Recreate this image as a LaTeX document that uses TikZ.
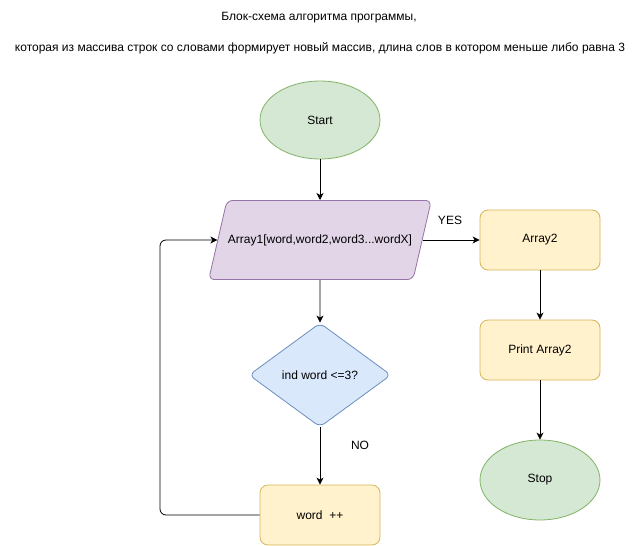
\documentclass[tikz,border=0pt]{standalone}
\usepackage{fontspec}
\setmainfont{Liberation Sans}
\usetikzlibrary{shapes.geometric,arrows.meta}

\definecolor{termfill}{HTML}{D5E8D4}
\definecolor{termdraw}{HTML}{82B366}
\definecolor{iofill}{HTML}{E1D5E7}
\definecolor{iodraw}{HTML}{9673A6}
\definecolor{askfill}{HTML}{DAE8FC}
\definecolor{askdraw}{HTML}{6C8EBF}
\definecolor{actfill}{HTML}{FFF2CC}
\definecolor{actdraw}{HTML}{D6B656}

\begin{document}
\begin{tikzpicture}[x=1pt,y=-1pt,auto,font=\fontsize{12}{14}\selectfont,
    term/.style={ellipse,draw=termdraw,fill=termfill,minimum width=120pt,minimum height=78pt},
    io/.style={trapezium,trapezium left angle=77,trapezium right angle=103,
        draw=iodraw,fill=iofill,rounded corners=6pt,inner xsep=1pt,inner ysep=34pt},
    ask/.style={diamond,draw=askdraw,fill=askfill,rounded corners=6pt,minimum width=142pt,minimum height=104pt,inner sep=0pt},
    act/.style={rectangle,draw=actdraw,fill=actfill,rounded corners=8pt,minimum width=120pt,minimum height=60pt},
    link/.style={draw=black,line width=0.8pt,-{Stealth[length=7pt,width=7pt,inset=2pt]}}]
    \useasboundingbox (0,0) rectangle (641,546);
    \node (title1) at (319,18) {Блок-схема алгоритма программы,};
    \node (title2) at (320,48) {которая из массива строк со словами формирует новый массив, длина слов в котором меньше либо равна 3};
    \begin{scope}[every node/.style={line width=0.8pt}]
        \node[term] (start) at (320,120) {Start};
        \node[io] (arr1) at (320,240) {Array1[word,word2,word3...wordX]};
        \node[ask] (check) at (320,375) {ind word <=3?};
        \node[act] (inc) at (320,515) {word\ \ ++};
        \node[act] (arr2) at (540,240) {Array2};
        \node[act] (print) at (540,350) {Print Array2};
        \node[term,minimum height=80pt] (stop) at (540,480) {Stop};
    \end{scope}
    \node (yes) at (450,220) {YES};
    \node (no) at (360,445) {NO};
    \coordinate (backdown) at (160,515);
    \coordinate (backup) at (160,240);
    \begin{scope}[every edge/.style={link}]
        \draw (start) edge (arr1);
        \draw (arr1) edge (check);
        \draw (check) edge (inc);
        \draw (arr1) edge (arr2);
        \draw (arr2) edge (print);
        \draw (print) edge (stop);
    \end{scope}
    \draw[link,rounded corners=6pt] (inc.west) -- (backdown) -- (backup) -- (arr1.west);
\end{tikzpicture}
\end{document}
